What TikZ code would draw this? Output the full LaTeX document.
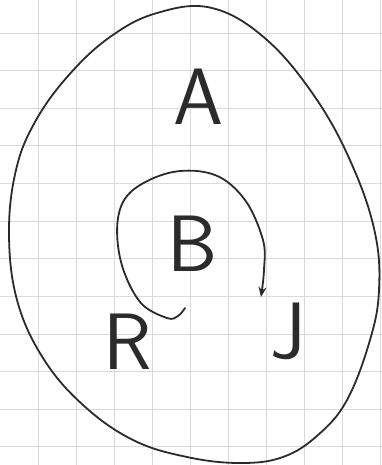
\documentclass[tikz,border=0pt]{standalone}
\usepackage{xcolor}
\usepackage{tikz}
\usetikzlibrary{positioning, arrows.meta}
\definecolor{pencil}{HTML}{2B2B2B}
\definecolor{gridgray}{HTML}{DADADA}

\tikzset{
  letter/.style={font=\sffamily\fontsize{80}{80}\selectfont, text=pencil, inner sep=0pt},
  stroke/.style={draw=pencil, line width=1.8pt, line cap=round, line join=round},
  gridline/.style={draw=gridgray, line width=0.6pt}
}

\begin{document}
\begin{tikzpicture}[x=1pt, y=-1pt]
  \useasboundingbox[fill=white] (0,0) rectangle (382,465);
  \foreach \k in {1,...,10}
    \draw[gridline] (38*\k,0) -- (38*\k,465);
  \foreach \k in {1,...,12}
    \draw[gridline] (0,-4.6+37.6*\k) -- (382,-4.6+37.6*\k);

  \draw[stroke] plot[smooth cycle, tension=0.65] coordinates {
    (212,8) (267,40) (317,100) (353,167) (375,233) (379,290) (370,340)
    (347,400) (318,435) (283,457) (240,463) (187,457) (133,440) (83,405)
    (43,358) (17,300) (9,233) (16,170) (35,122) (68,76) (110,37) (157,13)};

  \node[letter] (A) at (198,97) {A};
  \node[letter] (B) at (193,244) {B};
  \node[letter] (R) at (128,342) {R};
  \node[letter] (J) at (288,331) {J};

  \coordinate (start) at (185,308);
  \coordinate (tip) at (261,297);
  \draw[stroke, -{Stealth[length=10pt, width=8pt]}] plot[smooth, tension=0.6] coordinates {
    (start) (178,316) (167,318) (140,302) (121,262) (118,218) (133,190)
    (173,172) (215,175) (245,200) (263,240) (264,270) (tip)};
\end{tikzpicture}
\end{document}
